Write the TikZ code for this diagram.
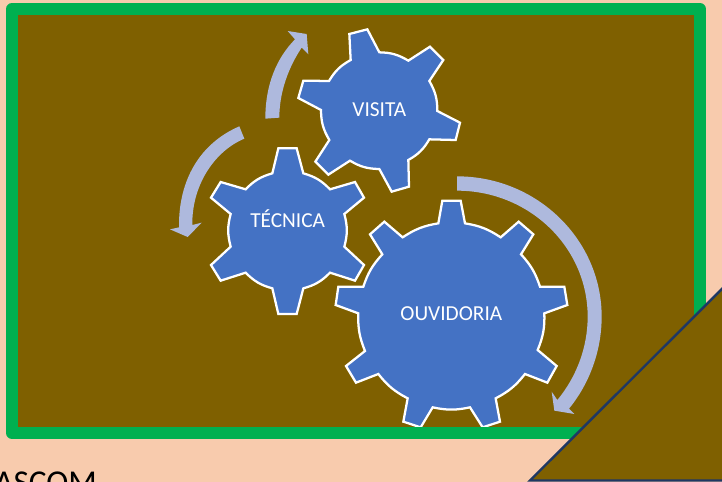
\documentclass[tikz,border=0pt]{standalone}
\usepackage{fontspec}
\setmainfont{Carlito}
\definecolor{peach}{HTML}{F8CBAD}
\definecolor{brownfill}{HTML}{7F6000}
\definecolor{framegreen}{HTML}{00B050}
\definecolor{gearblue}{HTML}{4472C4}
\definecolor{arrowblue}{HTML}{AEB9DD}
\definecolor{navy}{HTML}{1F3864}
\tikzset{
  gearshape/.style={fill=gearblue,draw=white,line width=1.7pt,line join=miter,miter limit=3},
  arcarrow/.style={fill=arrowblue,draw=none},
  gearlabel/.style={text=white,font=\fontsize{16}{19}\selectfont,inner sep=0pt},
  a/.style={bend left=15},
  o/.style={bend left=12}
}
\begin{document}
\begin{tikzpicture}[x=0.75pt,y=-0.75pt]
\useasboundingbox (0,0) rectangle (722,482);
\clip (0,0) rectangle (722,482);
\fill[peach] (0,0) rectangle (722,482);
\fill[brownfill] (12,9) rectangle (700,433);
\begin{scope}[shift={(160,10)},x=0.25pt,y=-0.25pt]
  % VISITA gear
  \draw[gearshape] (568,72)--(622,58)--(658,127) to[a] (745,152)--(810,110)--(850,150)--(808,213) to[a] (832,303)--(900,338)--(887,390)--(808,388) to[a] (745,450)--(747,530)--(695,545)--(658,477) to[a] (570,452)--(505,494)--(466,455)--(508,390) to[a] (483,300)--(415,264)--(430,212)--(507,213) to[a] (572,150)--cycle;
  % TECNICA gear
  \draw[gearshape] (355,415)--(410,415)--(430,490) to[a] (510,538)--(585,516)--(612,563)--(553,612) to[a] (553,710)--(612,765)--(585,812)--(510,788) to[a] (430,835)--(410,912)--(355,912)--(337,835) to[a] (257,788)--(182,812)--(153,765)--(212,710) to[a] (212,612)--(153,563)--(182,516)--(257,538) to[a] (337,490)--cycle;
  % arrows
  \fill[arcarrow] (316,326) .. controls (316,220) and (352,142) .. (405,88) -- (383,63) -- (440,72) -- (445,133) -- (425,113) .. controls (388,168) and (358,243) .. (358,323) -- cycle;
  \fill[arcarrow] (238,349) .. controls (120,400) and (55,510) .. (57,652) -- (30,658) -- (83,681) -- (125,638) -- (97,645) .. controls (95,530) and (160,425) .. (253,386) -- cycle;
  \node[gearlabel] (visita) at (658,300) {VISITA};
  \node[gearlabel] (tecnica) at (383,625) {TÉCNICA};
\end{scope}
\begin{scope}[shift={(330,170)},x=0.25pt,y=-0.25pt]
  % OUVIDORIA gear
  \draw[gearshape] (337,92)--(392,92)--(405,160) to[o] (512,202)--(566,155)--(610,193)--(573,253) to[o] (630,350)--(703,350)--(712,405)--(643,430) to[o] (623,540)--(680,588)--(652,638)--(585,612) to[o] (497,685)--(510,755)--(458,772)--(420,712) to[o] (308,712)--(272,772)--(220,755)--(233,685) to[o] (145,612)--(78,638)--(48,588)--(105,543) to[o] (85,430)--(17,405)--(25,350)--(100,350) to[o] (157,253)--(120,193)--(163,155)--(218,202) to[o] (325,160)--cycle;
  \fill[arcarrow] (381,19) .. controls (620,19) and (815,208) .. (815,440) .. controls (815,540) and (780,639) .. (717,716) -- (733,732) -- (673,722) -- (665,665) -- (682,690) .. controls (740,620) and (773,531) .. (773,440) .. controls (773,231) and (597,62) .. (381,62) -- cycle;
  \node[gearlabel] (ouvidoria) at (364,430) {OUVIDORIA};
\end{scope}
\draw[framegreen,line width=9pt,line join=round] (12,9) rectangle (700,433);
\node[anchor=base west,inner sep=0pt,font=\fontsize{25}{29}\selectfont,text=black] (ascom) at (-6,493.5) {ASCOM};
\draw[navy,fill=brownfill,line width=1.8pt,line join=miter] (530,480.5) -- (760,251) -- (760,480.5) -- cycle;
\end{tikzpicture}
\end{document}
